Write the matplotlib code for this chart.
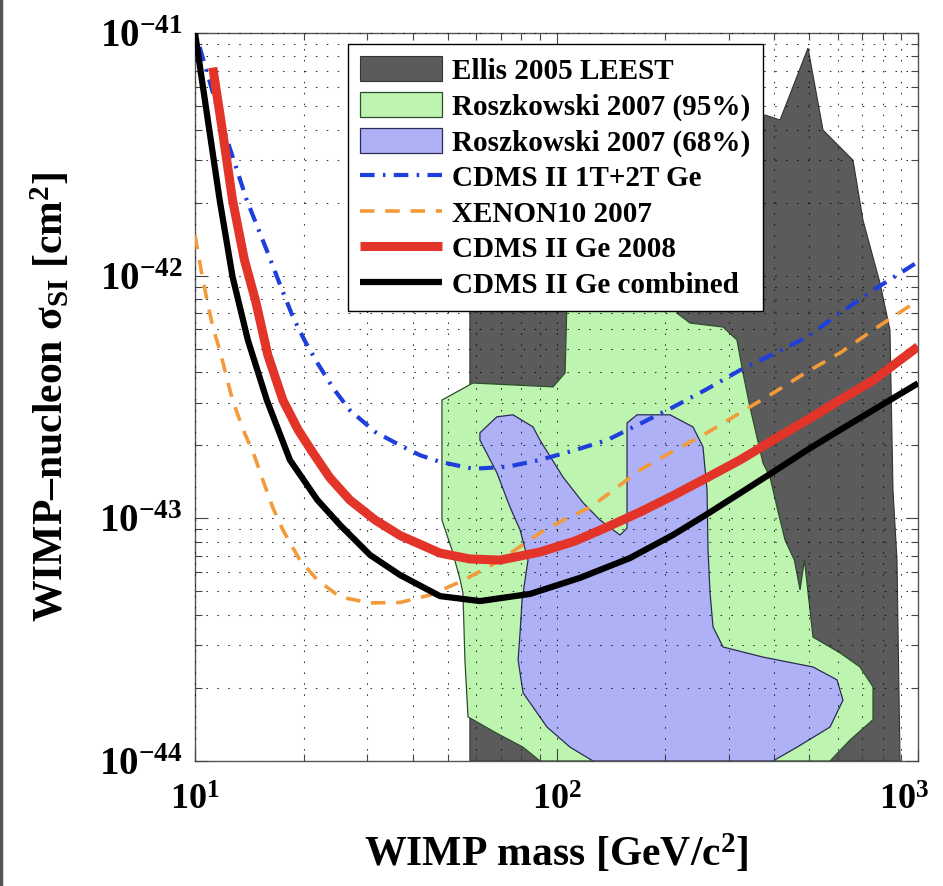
import matplotlib
matplotlib.use("Agg")
import matplotlib.pyplot as plt
from matplotlib.lines import Line2D
from matplotlib.transforms import ScaledTranslation

plt.rcParams['font.family'] = ['Liberation Serif', 'DejaVu Serif']
plt.rcParams['font.weight'] = 'bold'
plt.rcParams['mathtext.fontset'] = 'custom'
plt.rcParams['mathtext.rm'] = 'Liberation Serif:bold'
plt.rcParams['mathtext.it'] = 'Liberation Serif:italic:bold'
plt.rcParams['mathtext.bf'] = 'Liberation Serif:bold'

# ---------------- data ----------------
# Ellis 2005 LEEST region (mass GeV, sigma cm^2)
ellis_m = [57.6, 57.6, 57.6, 377.4, 415.3, 496.3, 546.0, 661.0, 704.5, 785.0, 836.5, 852.6, 874.7, 891.7]
ellis_s = [1e-44, 7.93e-43, 2.05e-42, 4.59e-42, 4.38e-42, 8.67e-42, 3.98e-42, 2.99e-42, 1.69e-42,
           9.32e-43, 5.97e-43, 1.31e-43, 6.73e-44, 1e-44]

# Roszkowski 2007 95% region
r95_m = [48.2, 58.7, 97.8, 105.6, 106.9, 215.4, 215.4, 234.0, 288.8, 315.7, 328.0, 342.9, 372.6,
         389.6, 407.4, 428.7, 455.0, 471.7, 485.0, 502.6, 512.3, 608.4, 690.9, 750.8, 750.8,
         648.5, 571.0, 90.0, 80.8, 68.4, 56.9, 55.8, 55.1, 54.1, 51.4, 48.2]
r95_s = [3.07e-43, 3.61e-43, 3.48e-43, 3.97e-43, 7.93e-43, 7.93e-43, 7.01e-43, 6.38e-43, 6.14e-43,
         5.43e-43, 3.97e-43, 2.87e-43, 1.69e-43, 1.48e-43, 1.11e-43, 8.14e-44, 6.73e-44, 5.07e-44,
         6.73e-44, 4.19e-44, 3.24e-44, 2.79e-44, 2.44e-44, 2.02e-44, 1.48e-44, 1.22e-44, 1e-44,
         1e-44, 1.14e-44, 1.30e-44, 1.52e-44, 2.61e-44, 4.92e-44, 5.6e-44, 7.40e-44, 9.84e-44]

# Roszkowski 2007 68% region
r68_m = [61.4, 68.4, 75.8, 86.1, 90.0, 104.2, 118.4, 131.9, 149.9, 156.7, 156.7, 156.7, 156.7,
         167.0, 206.1, 238.5, 254.2, 260.8, 262.5, 265.9, 271.0, 288.8, 372.6, 512.3, 596.9,
         620.1, 571.0, 462.8, 397.1, 126.2, 109.0, 94.1, 80.8, 78.3, 79.3, 80.3, 83.4, 79.3,
         74.4, 68.4, 61.4]
r68_s = [2.25e-43, 2.62e-43, 2.67e-43, 2.38e-43, 2.10e-43, 1.48e-43, 1.16e-43, 9.84e-44, 8.53e-44,
         9.12e-44, 1.31e-43, 2.10e-43, 2.47e-43, 2.67e-43, 2.67e-43, 2.38e-43, 1.97e-43, 1.31e-43,
         7.40e-44, 4.92e-44, 3.57e-44, 2.95e-44, 2.68e-44, 2.44e-44, 2.16e-44, 1.78e-44, 1.38e-44,
         1.14e-44, 1e-44, 1e-44, 1.14e-44, 1.38e-44, 1.91e-44, 2.61e-44, 3.40e-44, 4.61e-44,
         6.73e-44, 8.95e-44, 1.11e-43, 1.54e-43, 2.10e-43]

# CDMS II 1T+2T Ge
cdms12_m = [10.3, 11.9, 13.9, 15.8, 17.2, 18.7, 20.2, 21.8, 24.1, 26.8, 31.5, 36.9, 41.9, 47.6,
            58.7, 73, 90, 112.5, 138, 170, 210, 260.8, 322, 397, 493, 608, 751, 1000]
cdms12_s = [8.75e-42, 4.17e-42, 2.05e-42, 1.27e-42, 9.15e-43, 6.7e-43, 5.33e-43, 4.37e-43,
            3.44e-43, 2.79e-43, 2.27e-43, 2.0e-43, 1.82e-43, 1.71e-43, 1.60e-43, 1.63e-43,
            1.74e-43, 1.91e-43, 2.1e-43, 2.45e-43, 2.87e-43, 3.41e-43, 4.08e-43, 4.75e-43,
            5.58e-43, 7.01e-43, 8.7e-43, 1.14e-42]

# XENON10 2007
xenon_m = [10, 10.4, 10.8, 11.2, 11.7, 12.7, 13.6, 14.5, 15.4, 16.4, 17.5, 19.5, 21.8, 25.2,
           30.5, 36.9, 44.7, 54.1, 65.5, 76.8, 90, 105.6, 124, 145, 170, 210, 260.8, 322, 397,
           493, 608, 751, 1000]
xenon_s = [1.47e-42, 1.05e-42, 7.9e-43, 6.14e-43, 4.94e-43, 3.07e-43, 2.31e-43, 1.86e-43,
           1.44e-43, 1.11e-43, 8.95e-44, 6.73e-44, 5.57e-44, 4.74e-44, 4.48e-44, 4.5e-44,
           4.83e-44, 5.47e-44, 6.36e-44, 7.40e-44, 8.7e-44, 9.93e-44, 1.11e-43, 1.32e-43,
           1.58e-43, 1.89e-43, 2.25e-43, 2.72e-43, 3.28e-43, 4.01e-43, 4.8e-43, 5.97e-43, 7.9e-43]

# CDMS II Ge 2008
cdms08_m = [11.2, 11.9, 12.7, 13.7, 14.7, 15.9, 17.5, 19.3, 21.2, 23.6, 26.8, 31.5, 36.9, 47.6,
            57.6, 69.8, 90, 112.5, 138, 170, 210, 260.8, 322, 397, 493, 608, 751, 1000]
cdms08_s = [7.2e-42, 3.98e-42, 2.05e-42, 1.16e-42, 7.9e-43, 4.71e-43, 3.07e-43, 2.31e-43,
            1.86e-43, 1.47e-43, 1.19e-43, 9.84e-44, 8.5e-44, 7.19e-44, 6.8e-44, 6.73e-44,
            7.26e-44, 8.06e-44, 9.2e-44, 1.06e-43, 1.24e-43, 1.47e-43, 1.74e-43, 2.10e-43,
            2.54e-43, 3.07e-43, 3.7e-43, 5.1e-43]

# CDMS II Ge combined
comb_m = [10, 10.8, 11.7, 12.7, 14.0, 15.8, 18.3, 21.8, 25.2, 30.5, 36.9, 47.6, 61.4, 84.5,
          116, 159.7, 210, 260.8, 322, 397, 493, 608, 751, 1000]
comb_s = [1.0e-41, 4.59e-42, 2.05e-42, 9.9e-43, 5.43e-43, 3.07e-43, 1.74e-43, 1.19e-43, 9.38e-44,
          7.06e-44, 5.84e-44, 4.78e-44, 4.56e-44, 4.88e-44, 5.68e-44, 6.86e-44, 8.54e-44,
          1.04e-43, 1.27e-43, 1.55e-43, 1.91e-43, 2.31e-43, 2.79e-43, 3.6e-43]

labels = ["Ellis 2005 LEEST", "Roszkowski 2007 (95%)", "Roszkowski 2007 (68%)",
          "CDMS II 1T+2T Ge", "XENON10 2007", "CDMS II Ge 2008", "CDMS II Ge combined"]

xticks = [10, 100, 1000]
xticklabels = ["$10^{1}$", "$10^{2}$", "$10^{3}$"]
yticks = [1e-44, 1e-43, 1e-42, 1e-41]
yticklabels = ["$10^{-44}$", "$10^{-43}$", "$10^{-42}$", "$10^{-41}$"]

# ---------------- figure ----------------
fig = plt.figure(figsize=(9.43, 8.86), dpi=100)
ax = fig.add_axes([0.2068, 0.1411, 0.7667, 0.8217])
ax.set_xscale('log')
ax.set_yscale('log')
ax.set_xlim(10, 1000)
ax.set_ylim(1e-44, 1e-41)

ax.fill(ellis_m, ellis_s, facecolor='#5b5b5b', edgecolor='#333333', lw=0.8, zorder=1, label=labels[0])
ax.fill(r95_m, r95_s, facecolor='#bdf5b0', edgecolor='#2d4d2d', lw=0.9, zorder=1.1, label=labels[1])
ax.fill(r68_m, r68_s, facecolor='#aeb1f5', edgecolor='#2b2b55', lw=0.9, zorder=1.2, label=labels[2])

ax.plot(cdms12_m, cdms12_s, color='#1f3fdc', lw=3.0, ls=(0, (3.5, 2, 0.6, 2)), zorder=3, label=labels[3])
ax.plot(xenon_m, xenon_s, color='#f39a3a', lw=2.6, ls=(0, (4, 3)), zorder=3, label=labels[4])
ax.plot(cdms08_m, cdms08_s, color='#e3342a', lw=6.5, zorder=3.1, label=labels[5],
        solid_capstyle='butt', solid_joinstyle='round')
ax.plot(comb_m, comb_s, color='black', lw=4.5, zorder=3.2, label=labels[6],
        solid_capstyle='butt', solid_joinstyle='round')

ax.set_axisbelow(False)
ax.grid(True, which='both', color='black', lw=0.75, alpha=0.8, ls=(0, (1.5, 9)))
ax.tick_params(which='both', direction='in', top=True, right=True, width=0.8, color='#444444')
ax.tick_params(which='major', length=9)
ax.tick_params(which='minor', length=5)
ax.tick_params(axis='x', which='major', pad=17)
ax.tick_params(axis='y', which='major', pad=9)
for s in ax.spines.values():
    s.set_color('#555555')
    s.set_linewidth(1.0)

ax.set_xticks(xticks)
ax.set_xticklabels(xticklabels, fontsize=26)
ax.set_yticks(yticks)
ax.set_yticklabels(yticklabels, fontsize=28)
last = ax.xaxis.get_major_ticks()[-1].label1
last.set_transform(last.get_transform() + ScaledTranslation(-10 / 72, 0, fig.dpi_scale_trans))

ax.set_xlabel("WIMP mass [GeV/c$^{2}$]", fontsize=30, fontweight='bold')
ax.set_ylabel("WIMP–nucleon σ$_{\\mathrm{SI}}$ [cm$^{2}$]", fontsize=30, fontweight='bold')
ax.xaxis.set_label_coords(0.5, -0.097)
ax.yaxis.set_label_coords(-0.17, 0.5)

leg = ax.legend(loc='upper left', bbox_to_anchor=(0.2116, 0.985), borderaxespad=0,
                fontsize=21, handlelength=2.8, handleheight=0.95, handletextpad=0.35,
                labelspacing=0.24, borderpad=0.42, fancybox=False, framealpha=1,
                edgecolor='black')
leg.get_frame().set_linewidth(1.0)
leg.set_zorder(5)

fig.add_artist(Line2D([0.0015, 0.0015], [0, 1], transform=fig.transFigure, color='#555555', lw=2.5))

fig.savefig("out.png", dpi=100)
